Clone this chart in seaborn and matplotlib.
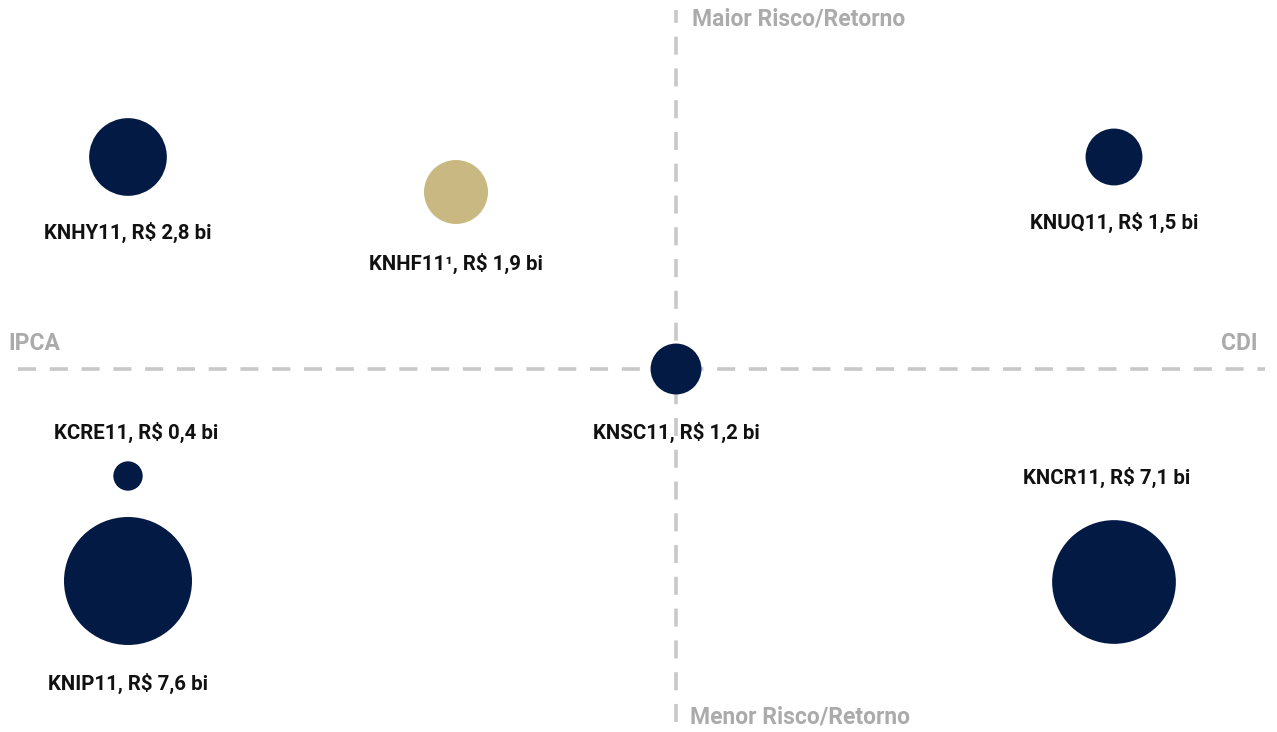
import matplotlib
matplotlib.use("Agg")
import matplotlib.pyplot as plt
import seaborn as sns
import pandas as pd

# ---- data ----
funds = ["KNHY11", "KNHF11¹", "KNUQ11", "KNSC11", "KCRE11", "KNIP11", "KNCR11"]
aum_bi = [2.8, 1.9, 1.5, 1.2, 0.4, 7.6, 7.1]
aum_txt = ["2,8", "1,9", "1,5", "1,2", "0,4", "7,6", "7,1"]
# position on index axis (IPCA <- -> CDI) and risk axis (menor <- -> maior)
index_pos = [-548, -220, 438, 0, -548, -548, 438]
risk_pos = [212, 177, 212, 0, -107, -212, -213]
group = ["main", "highlight", "main", "main", "main", "main", "main"]

axis_top = "Maior Risco/Retorno"
axis_bottom = "Menor Risco/Retorno"
axis_left = "IPCA"
axis_right = "CDI"

NAVY = "#031A44"
GOLD = "#C9B882"
GRAY_LINE = "#C8C8C8"
GRAY_TXT = "#ABABAB"

df = pd.DataFrame({"fund": funds, "aum": aum_bi, "x": index_pos, "y": risk_pos, "group": group})

sns.set_theme(style="white")
plt.rcParams["font.family"] = ["Roboto", "DejaVu Sans"]

fig = plt.figure(figsize=(12.77, 7.32), dpi=100)
ax = fig.add_axes([0, 0, 1, 1])

# center of chart at pixel (676, 369)
ax.set_xlim(-676, 1277 - 676)
ax.set_ylim(-(732 - 369), 369)

# dashed quadrant lines
ax.plot([-658, 589], [0, 0], color=GRAY_LINE, lw=2.6, dashes=(5, 3.8), zorder=1, solid_capstyle="butt")
ax.plot([0, 0], [-353, 359], color=GRAY_LINE, lw=2.6, dashes=(5, 3.8), zorder=1, solid_capstyle="butt")

max_s = (2 * 64 * 0.72) ** 2
sns.scatterplot(data=df, x="x", y="y", size="aum", sizes=(0, max_s), size_norm=(0, 7.6),
                hue="group", palette={"main": NAVY, "highlight": GOLD},
                linewidth=0, alpha=1, legend=False, ax=ax, zorder=3)

# labels
label_off = [(0, -75), (0, -71), (0, -65), (0, -63), (8, 44), (0, -102), (-7, 105)]
for f, t, x, y, (dx, dy) in zip(funds, aum_txt, index_pos, risk_pos, label_off):
    ax.text(x + dx, y + dy, f"{f}, R$ {t} bi", ha="center", va="center",
            fontsize=14.7, fontweight="bold", color="#111111", zorder=4)

ax.text(16, 350, axis_top, ha="left", va="center", fontsize=16.5, fontweight="bold", color=GRAY_TXT)
ax.text(14, -348, axis_bottom, ha="left", va="center", fontsize=16.5, fontweight="bold", color=GRAY_TXT)
ax.text(-668, 25, axis_left, ha="left", va="center", fontsize=16.5, fontweight="bold", color=GRAY_TXT)
ax.text(582, 25, axis_right, ha="right", va="center", fontsize=16.5, fontweight="bold", color=GRAY_TXT)

ax.set_axis_off()
fig.savefig("out.png", dpi=100, facecolor="white")
